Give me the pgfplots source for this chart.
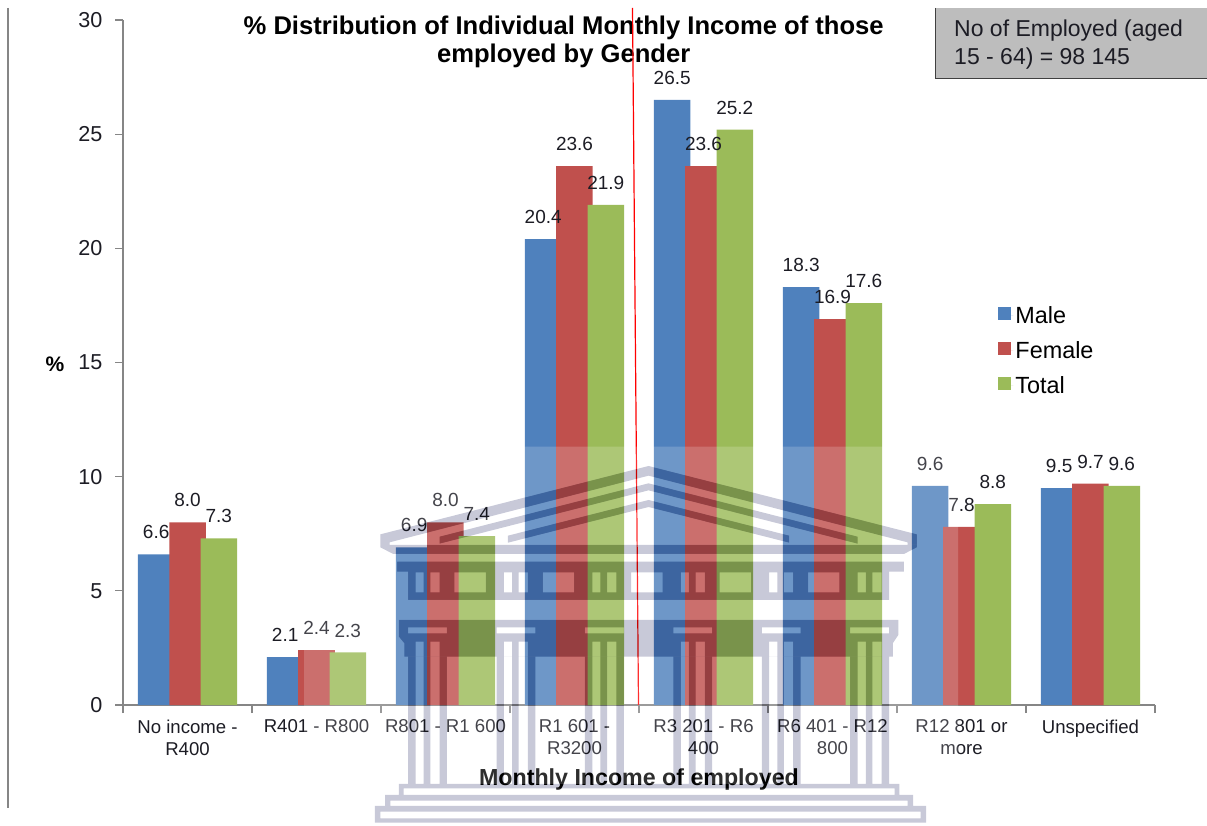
\documentclass[border=0pt]{standalone}
\usepackage{pgfplots}
\usepackage{fontspec}
\setmainfont{Liberation Sans}
\pgfplotsset{compat=1.18}

\definecolor{barblue}{HTML}{4F81BD}
\definecolor{barred}{HTML}{C0504D}
\definecolor{bargreen}{HTML}{9BBB59}
\definecolor{axisgrey}{HTML}{868686}
\definecolor{labeltext}{HTML}{1C1C24}
\definecolor{crestgrey}{HTML}{C8C9D8}

% Building emblem, as one even-odd path: roof, entablature, capitals, columns, steps
\newcommand{\crestshape}{
  (780,108) -- (1505,313) -- (1505,345) -- (1480,345) -- (1480,337) -- (780,137) -- (80,337) -- (80,345) -- (55,345) -- (55,313) -- cycle
  (780,160) -- (1345,320) -- (1345,341) -- (780,181) -- (215,341) -- (215,320) -- cycle
  (780,210) -- (1160,317) -- (1160,338) -- (780,231) -- (400,338) -- (400,317) -- cycle
  (55,345) -- (1505,345) -- (1505,352) -- (1470,372) -- (90,372) -- (55,352) -- cycle
  (100,395) -- (1470,395) -- (1470,425) -- (1430,425) -- (1430,510) -- (130,510) -- (130,425) -- (100,425) -- cycle
  (105,570) -- (1455,570) -- (1455,615) -- (1440,640) -- (1440,680) -- (120,680) -- (120,640) -- (105,620) -- cycle
  \foreach[evaluate=\k as \d using 239*\k] \k in {0,...,5}{
    (150+\d,427) rectangle (172+\d,487)
    (190+\d,427) rectangle (215+\d,487)
    (130+\d,592) rectangle (235+\d,610)
    (150+\d,635) rectangle (172+\d,680)
    (190+\d,635) rectangle (215+\d,680)
    (130+\d,680) rectangle (150+\d,1062)
    (172+\d,680) rectangle (190+\d,1062)
    (215+\d,680) rectangle (235+\d,1062)
  }
  \foreach[evaluate=\k as \d using 239*\k] \k in {0,...,4}{
    (255+\d,427) rectangle (340+\d,487)
  }
  (105,1062) rectangle (1458,1095) (118,1075) rectangle (1445,1095)
  (68,1095) rectangle (1495,1128) (82,1112) rectangle (1480,1128)
  (40,1128) rectangle (1530,1178) (55,1145) rectangle (1515,1165)
}

\begin{document}
\begin{tikzpicture}[x=1pt,y=1pt]
\useasboundingbox (0,0) rectangle (1207,825);

\begin{axis}[
  at={(123pt,120pt)}, anchor=south west,
  scale only axis, width=1032pt, height=685pt,
  clip=false,
  xmin=0, xmax=8, ymin=0, ymax=30,
  ytick={0,5,...,30},
  xtick={0.5,1.5,...,7.5},
  xticklabels={{No income -\\R400},{R401 - R800},{R801 - R1 600},{R1 601 -\\R3200},{R3 201 - R6\\400},{R6 401 - R12\\800},{R12 801 or\\more},{Unspecified}},
  minor xtick={0,1,...,8},
  major x tick style={draw=none},
  axis x line*=bottom, axis y line*=left,
  axis line style={draw=axisgrey, line width=1.2pt, -},
  y tick style={draw=axisgrey, line width=1.2pt},
  minor x tick style={draw=axisgrey, line width=1.2pt},
  tickwidth=8pt, subtickwidth=8pt,
  tick align=outside,
  /pgf/number format/assume math mode=true,
  y tick label style={/pgf/number format/fixed zerofill=false, /pgf/number format/precision=0},
  yticklabel style={font=\fontsize{21.6}{24}\selectfont, text=labeltext, xshift=-9pt},
  xticklabel style={font=\fontsize{18.6}{22}\selectfont, text=labeltext, align=center, anchor=north, yshift=-3pt},
  ybar,
  bar width=36.5pt,
  nodes near coords,
  /pgf/number format/fixed, /pgf/number format/fixed zerofill, /pgf/number format/precision=1,
  every node near coord/.append style={font=\fontsize{19}{21}\selectfont, text=labeltext, inner sep=0pt, anchor=center, yshift=22pt},
  title={\% Distribution of Individual Monthly Income of those\\employed by Gender},
  title style={at={(axis description cs:0.427,0.959)}, anchor=center, align=center, font=\bfseries\fontsize{25.6}{28.5}\selectfont, inner sep=0pt},
  xlabel={Monthly Income of employed},
  xlabel style={at={(axis description cs:0.5,-0.109)}, anchor=center, font=\bfseries\fontsize{23.2}{26}\selectfont, inner sep=0pt},
  ylabel={\%},
  ylabel style={at={(axis description cs:-0.066,0.498)}, anchor=center, rotate=-90, font=\bfseries\fontsize{21}{24}\selectfont, inner sep=0pt},
  legend style={at={(axis cs:6.785,17.56)}, anchor=north west, draw=none, fill=none,
    font=\fontsize{23.4}{26}\selectfont, row sep=12.5pt, inner sep=0pt},
  legend cell align=left,
  legend image code/.code={\fill[#1] (0pt,-5pt) rectangle (13pt,8pt); \path (0pt,0pt) -- (15pt,0pt);},
]
\addplot[fill=barblue, draw=none, bar shift=-31.3pt] coordinates {(0.5,6.6) (1.5,2.1) (2.5,6.9) (3.5,20.4) (4.5,26.5) (5.5,18.3) (6.5,9.6) (7.5,9.5)};
\addplot[fill=barred, draw=none, bar shift=0pt] coordinates {(0.5,8.0) (1.5,2.4) (2.5,8.0) (3.5,23.6) (4.5,23.6) (5.5,16.9) (6.5,7.8) (7.5,9.7)};
\addplot[fill=bargreen, draw=none, bar shift=31.3pt] coordinates {(0.5,7.3) (1.5,2.3) (2.5,7.4) (3.5,21.9) (4.5,25.2) (5.5,17.6) (6.5,8.8) (7.5,9.6)};
\legend{Male,Female,Total}
\end{axis}

% Page rule on the left and the red fold line
\draw[axisgrey, line width=1.2pt] (8,817) -- (8,17);
\draw[red, line width=1.2pt] (632.5,817) -- (638.5,120);

% Sample-size note, upper right
\fill[black!26] (935,746) rectangle (1207,817);
\draw[black!75, line width=1.5pt] (935.5,817) -- (935.5,746.5) -- (1207,746.5);
\node[anchor=base west, inner sep=0pt, text=labeltext, font=\fontsize{23}{26}\selectfont] at (954,788) {No of Employed (aged};
\node[anchor=base west, inner sep=0pt, text=labeltext, font=\fontsize{23}{26}\selectfont] at (954,760) {15 - 64) = 98 145};

% Emblem laid over the chart: a pale wash outside the shape, multiplied tint inside it
\begin{scope}[shift={(360,395)}, x=0.36996pt, y=-0.33333pt]
  \fill[white, fill opacity=0.18, even odd rule] (-151,50) rectangle (1617,1185) \crestshape;
  \fill[crestgrey, blend mode=multiply, even odd rule] \crestshape;
\end{scope}
\end{tikzpicture}
\end{document}
